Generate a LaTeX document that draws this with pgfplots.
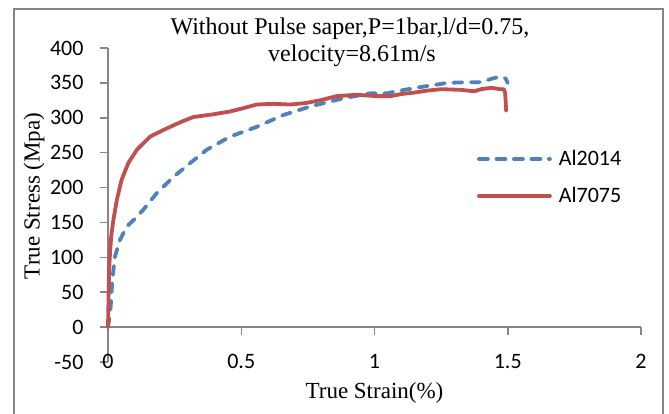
\documentclass[border=0pt]{standalone}
\usepackage{fontspec}
\setmainfont{Liberation Serif}
\newfontfamily\calibri{Carlito}
\usepackage{pgfplots}
\pgfplotsset{compat=1.18}
\definecolor{axgray}{RGB}{134,134,134}
\definecolor{exblue}{RGB}{79,129,189}
\definecolor{exred}{RGB}{192,80,77}
\begin{document}
\begin{tikzpicture}
\useasboundingbox (0,0) rectangle (669bp,414bp);
\draw[axgray, line width=1.5bp] (14bp,-5bp) -- (14bp,405bp) -- (663bp,405bp) -- (663bp,-5bp);
\node[font=\fontsize{24bp}{27bp}\selectfont, anchor=base, inner sep=0pt] at (350bp,379bp) {Without Pulse saper,P=1bar,l/d=0.75,};
\node[font=\fontsize{24bp}{27bp}\selectfont, anchor=base, inner sep=0pt] at (352bp,352bp) {velocity=8.61m/s};
\begin{axis}[
  at={(108bp,52bp)}, anchor=south west, scale only axis,
  width=533bp, height=314bp,
  xmin=0, xmax=2, ymin=-50, ymax=400,
  axis x line=middle, axis y line=left,
  axis line style={-, draw=axgray, line width=1.5bp},
  hide obscured x ticks=false, hide obscured y ticks=false,
  xtick={0,0.5,1,1.5,2}, ytick={-50,0,50,100,150,200,250,300,350,400},
  xticklabels={0,0.5,1,1.5,2},
  yticklabels={-50,0,50,100,150,200,250,300,350,400},
  tick align=outside, major tick length=8bp, minor tick num=0,
  every tick/.style={axgray, line width=1.5bp},
  ticklabel style={font=\calibri\fontsize{22bp}{26bp}\selectfont},
  /pgf/number format/assume math mode=true,
  xticklabel style={anchor=north, yshift=-16bp},
  yticklabel style={anchor=east, xshift=-13bp},
  xlabel={True Strain(\%)},
  ylabel={True Stress (Mpa)},
  label style={font=\fontsize{23bp}{27bp}\selectfont},
  xlabel style={at={(rel axis cs:0.5,0)}, anchor=base, yshift=-37bp},
  ylabel style={at={(rel axis cs:-0.1388,0.529)}, anchor=center},
  clip=false,
  legend style={draw=none, fill=none, at={(rel axis cs:0.692,0.68)}, anchor=north west,
    font=\calibri\fontsize{22bp}{26bp}\selectfont, row sep=16bp, column sep=5bp, inner sep=0pt,
    nodes={inner sep=2bp}},
  legend cell align=left,
  legend image code/.code={\draw[#1] (0bp,0bp) -- (71bp,0bp);},
]
\addplot[exblue, line width=3.8bp, dash pattern=on 9bp off 8.5bp, line cap=round, line join=round, mark=none] coordinates {
(0,0) (0.004,10) (0.01,29) (0.016,67) (0.026,101) (0.045,125) (0.07,144) (0.095,153)
(0.132,168) (0.183,192) (0.245,215) (0.308,235) (0.37,254) (0.458,273) (0.558,287)
(0.658,304) (0.758,316) (0.883,328) (0.983,335) (1.045,335) (1.097,339) (1.173,344)
(1.274,350) (1.35,351) (1.40,351) (1.44,356) (1.47,359) (1.485,358) (1.492,356) (1.50,350)
};
\addlegendentry{Al2014}
\addplot[exred, line width=3.8bp, line cap=round, line join=round, mark=none] coordinates {
(0,0) (0.002,40) (0.004,80) (0.0075,106) (0.012,130) (0.02,153) (0.033,182) (0.051,211)
(0.076,235) (0.108,254) (0.158,273) (0.2,281) (0.233,287) (0.28,295) (0.32,301) (0.395,305)
(0.458,309) (0.51,314) (0.558,319) (0.62,320) (0.683,319) (0.74,321) (0.795,325) (0.858,331)
(0.933,333) (1.008,331) (1.06,331) (1.1,334) (1.147,336) (1.2,339) (1.25,341) (1.325,340)
(1.375,338) (1.40,341) (1.44,343) (1.47,341) (1.485,341) (1.49,336) (1.492,325) (1.494,310)
};
\addlegendentry{Al7075}
\end{axis}
\end{tikzpicture}
\end{document}
